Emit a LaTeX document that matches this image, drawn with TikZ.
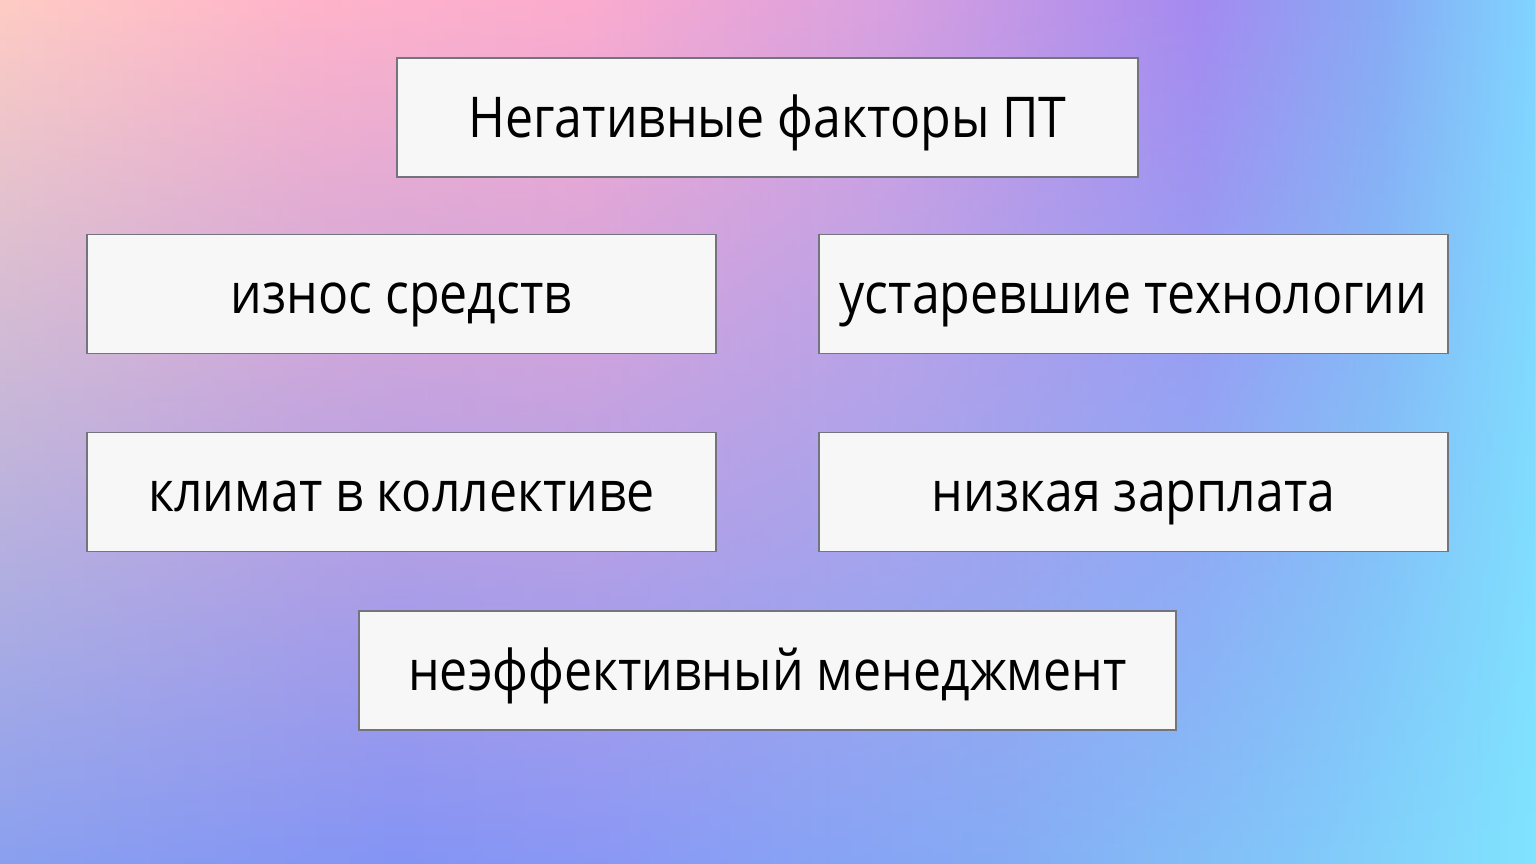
\documentclass[tikz,border=0pt]{standalone}
\usepackage{fontspec}
\setmainfont{Open Sans}[FakeStretch=0.89]
\usepackage{tikz}
\usetikzlibrary{fadings}

\definecolor{boxfill}{HTML}{F7F7F7}
\definecolor{boxline}{HTML}{74747E}
%%% background colours, top row and bottom row
\definecolor{ta}{HTML}{FFCCC4}
\definecolor{tb}{HTML}{FFB4CA}
\definecolor{tc}{HTML}{FCACCE}
\definecolor{td}{HTML}{D8A0E0}
\definecolor{te}{HTML}{A58AF0}
\definecolor{tf}{HTML}{88AAF4}
\definecolor{tg}{HTML}{80D4FF}
\definecolor{ba}{HTML}{8AA0F0}
\definecolor{bb}{HTML}{8494F5}
\definecolor{bc}{HTML}{8A98F5}
\definecolor{bd}{HTML}{85ACF5}
\definecolor{be}{HTML}{82C8FA}
\definecolor{bf}{HTML}{80E4FF}
\pgfdeclarehorizontalshading{bgtop}{100bp}{%
  color(0bp)=(ta); color(25bp)=(ta); color(35bp)=(tb); color(44bp)=(tc);
  color(54bp)=(td); color(64bp)=(te); color(70bp)=(tf); color(75bp)=(tg);
  color(100bp)=(tg)}
\pgfdeclarehorizontalshading{bgbottom}{100bp}{%
  color(0bp)=(ba); color(25bp)=(ba); color(38bp)=(bb); color(44.5bp)=(bc);
  color(57.6bp)=(bd); color(67.3bp)=(be); color(75bp)=(bf);
  color(100bp)=(bf)}
\tikzfading[name=topfade, top color=transparent!0,
  middle color=transparent!22, bottom color=transparent!100]

\begin{document}
\begin{tikzpicture}[
    factor/.style={draw=boxline, line width=0.5pt, fill=boxfill,
      minimum height=1.19cm, inner sep=0pt,
      text height=0.40cm, text depth=0cm,
      font=\fontsize{16pt}{19pt}\selectfont}]
			%%%	Sfondo
			\useasboundingbox (0,0) rectangle (15.36,8.64);
			\shade[shading=bgbottom] (0,0) rectangle (15.36,8.64);
			\shade[shading=bgtop, path fading=topfade] (0,0) rectangle (15.36,8.64);
			%%%	Riquadri
			\node[factor, minimum width=7.41cm] (title) at (7.675,7.465) {Негативные факторы ПТ};
			\node[factor, minimum width=6.29cm] (wear) at (4.015,5.70) {износ средств};
			\node[factor, minimum width=6.29cm] (tech) at (11.335,5.70) {устаревшие технологии};
			\node[factor, minimum width=6.29cm] (climate) at (4.015,3.72) {климат в коллективе};
			\node[factor, minimum width=6.29cm] (salary) at (11.335,3.72) {низкая зарплата};
			\node[factor, minimum width=8.17cm] (mgmt) at (7.675,1.935) {неэффективный менеджмент};
		\end{tikzpicture}
\end{document}
